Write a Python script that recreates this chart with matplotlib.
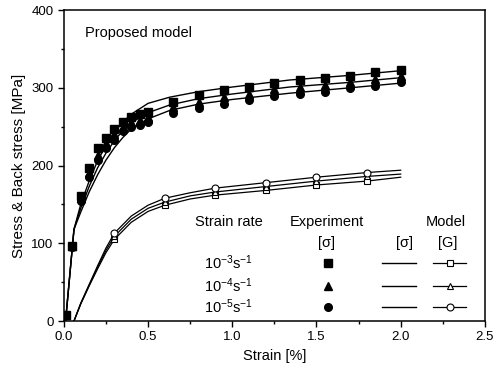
import matplotlib
matplotlib.use('Agg')
import matplotlib.pyplot as plt

plt.rcParams['font.family'] = ['Liberation Sans', 'DejaVu Sans']
plt.rcParams['mathtext.fontset'] = 'custom'
plt.rcParams['mathtext.rm'] = 'Liberation Sans'
plt.rcParams['mathtext.it'] = 'Liberation Sans'

# experiment (stress), strain rates 1e-3, 1e-4, 1e-5
exp_x = [0.01, 0.05, 0.1, 0.15, 0.2, 0.25, 0.3, 0.35, 0.4, 0.45, 0.5,
         0.65, 0.8, 0.95, 1.1, 1.25, 1.4, 1.55, 1.7, 1.85, 2.0]
exp_3 = [8, 97, 161, 197, 222, 236, 247, 256, 263, 266, 269,
         282, 291, 297, 301, 306, 310, 312, 315, 320, 323]
exp_4 = [8, 96, 158, 191, 214, 229, 240, 250, 256, 259, 262,
         275, 282, 288, 292, 298, 301, 304, 307, 311, 315]
exp_5 = [8, 95, 155, 185, 207, 223, 233, 245, 250, 252, 256,
         267, 274, 279, 284, 290, 292, 295, 300, 302, 307]

# model stress
mod_x = [0.01, 0.06, 0.1, 0.15, 0.2, 0.25, 0.3, 0.35, 0.4, 0.5, 0.63,
         0.8, 1.0, 1.34, 1.7, 2.0]
mod_3 = [0, 118, 150, 180, 206, 226, 243, 256, 266, 280, 288, 295, 301, 310, 316, 322]
mod_4 = [0, 118, 145, 173, 197, 216, 232, 245, 255, 268, 278, 286, 292, 301, 307, 313]
mod_5 = [0, 118, 140, 166, 188, 207, 223, 236, 247, 260, 271, 279, 285, 293, 300, 306]

# model back stress G
g_x = [0.06, 0.1, 0.15, 0.2, 0.25, 0.3, 0.4, 0.5, 0.6, 0.75, 0.9, 1.2, 1.5, 1.8, 2.0]
g_3 = [0, 22, 45, 67, 88, 105, 127, 141, 149, 157, 162, 168, 175, 180, 185]
g_4 = [0, 22, 46, 69, 91, 109, 131, 145, 153, 161, 166, 173, 180, 186, 189]
g_5 = [0, 23, 47, 71, 94, 113, 135, 149, 158, 165, 171, 178, 185, 191, 194]
g_marks = [5, 8, 10, 11, 12, 13]

rates = ['10$^{-3}$s$^{-1}$', '10$^{-4}$s$^{-1}$', '10$^{-5}$s$^{-1}$']
markers = ['s', '^', 'o']

fig = plt.figure(figsize=(5.03, 3.72), dpi=100)
ax = fig.add_axes([0.127, 0.137, 0.837, 0.836])

for ys, m in zip([mod_3, mod_4, mod_5], markers):
    ax.plot(mod_x, ys, color='black', lw=1.0)
for ys, m in zip([exp_3, exp_4, exp_5], markers):
    ax.plot(exp_x, ys, ls='none', marker=m, color='black', ms=5.5)
for ys, m in zip([g_3, g_4, g_5], markers):
    ax.plot(g_x, ys, color='black', lw=0.9, marker=m, ms=5,
            mfc='white', mec='black', mew=0.8, markevery=g_marks)

ax.set_xlim(0, 2.5)
ax.set_ylim(0, 400)
ax.set_xticks([0, 0.5, 1.0, 1.5, 2.0, 2.5])
ax.set_xticks([0.25, 0.75, 1.25, 1.75, 2.25], minor=True)
ax.set_yticks([0, 100, 200, 300, 400])
ax.set_yticks([50, 150, 250, 350], minor=True)
ax.set_xticklabels(['0.0', '0.5', '1.0', '1.5', '2.0', '2.5'])
ax.tick_params(which='major', length=4, width=1, labelsize=9.5)
ax.tick_params(which='minor', length=2.5, width=1)
for s in ax.spines.values():
    s.set_linewidth(1.1)
ax.set_xlabel('Strain [%]', fontsize=10.5)
ax.set_ylabel('Stress & Back stress [MPa]', fontsize=11)

ax.text(0.125, 370, 'Proposed model', fontsize=10.5, va='center')

# legend drawn as a table
fs = 10.5
ax.text(0.98, 127, 'Strain rate', ha='center', va='center', fontsize=fs)
ax.text(1.56, 127, 'Experiment', ha='center', va='center', fontsize=fs)
ax.text(2.27, 127, 'Model', ha='center', va='center', fontsize=fs)
ax.text(1.56, 100, '[σ]', ha='center', va='center', fontsize=fs)
ax.text(2.02, 100, '[σ]', ha='center', va='center', fontsize=fs)
ax.text(2.28, 100, '[G]', ha='center', va='center', fontsize=fs)
rows = [75, 45, 18]
for yy, lab, m in zip(rows, rates, markers):
    ax.text(0.98, yy, lab, ha='center', va='center', fontsize=fs)
    ax.plot([1.57], [yy], ls='none', marker=m, color='black', ms=5.5)
    ax.plot([1.89, 2.09], [yy, yy], color='black', lw=1.0)
    ax.plot([2.19, 2.29, 2.39], [yy, yy, yy], color='black', lw=0.9,
            marker=m, ms=5, mfc='white', mec='black', mew=0.8, markevery=[1])

fig.savefig('out.png', dpi=100)
